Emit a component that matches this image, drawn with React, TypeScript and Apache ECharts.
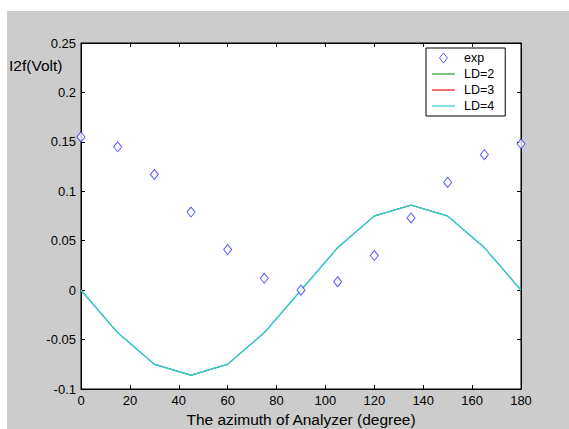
import React, { useEffect, useRef } from "react";
import * as echarts from "echarts";

const angles = [0, 15, 30, 45, 60, 75, 90, 105, 120, 135, 150, 165, 180];
const expValues = [0.155, 0.145, 0.117, 0.079, 0.041, 0.012, 0.0, 0.0085, 0.035, 0.073, 0.109, 0.137, 0.148];
const ld2Values = [0, -0.043, -0.075, -0.086, -0.075, -0.043, 0, 0.043, 0.075, 0.086, 0.075, 0.043, 0];
const ld3Values = [0, -0.043, -0.075, -0.086, -0.075, -0.043, 0, 0.043, 0.075, 0.086, 0.075, 0.043, 0];
const ld4Values = [0, -0.043, -0.075, -0.086, -0.075, -0.043, 0, 0.043, 0.075, 0.086, 0.075, 0.043, 0];
const legendNames = ["exp", "LD=2", "LD=3", "LD=4"];
const lineColors = ["#22a022", "#ee1111", "#33cccc"];
const lineWidths = [0.8, 0.8, 1.5];
const xTitle = "The azimuth of Analyzer (degree)";
const yTitle = "I2f(Volt)";

const FONT = "'Liberation Sans', Arial, sans-serif";
const LINE_ICON = "path://M0,0L23,0L23,1.2L0,1.2Z";
const DIAMOND_ICON = "path://M4,0L8,5L4,10L0,5Z";

export default function App() {
  const ref = useRef<HTMLDivElement>(null);
  useEffect(() => {
    if (!ref.current) return;
    const chart = echarts.init(ref.current, undefined, { renderer: "svg" });
    const pair = (vals: number[]) => angles.map((a, i) => [a, vals[i]]);
    const tickInside = { show: true, inside: true, length: 4, lineStyle: { color: "#000" } };
    const lineData = [ld2Values, ld3Values, ld4Values];
    chart.setOption({
      animation: false,
      backgroundColor: "transparent",
      textStyle: { fontFamily: FONT },
      grid: {
        left: 81,
        top: 43,
        width: 440,
        height: 346,
        show: true,
        backgroundColor: "#ffffff",
        borderColor: "#000",
        borderWidth: 1,
        containLabel: false,
        outerBoundsMode: "none",
      },
      xAxis: [
        {
          type: "value",
          min: 0,
          max: 180,
          interval: 20,
          name: xTitle,
          nameLocation: "middle",
          nameGap: 22,
          nameTextStyle: { fontFamily: FONT, fontSize: 15.5, color: "#000" },
          axisLine: { show: true, onZero: false, lineStyle: { color: "#000" } },
          axisTick: tickInside,
          axisLabel: { fontFamily: FONT, fontSize: 13, color: "#000", margin: 5 },
          splitLine: { show: false },
        },
        {
          type: "value",
          position: "top",
          min: 0,
          max: 180,
          interval: 20,
          axisLine: { show: true, onZero: false, lineStyle: { color: "#000" } },
          axisTick: tickInside,
          axisLabel: { show: false },
          splitLine: { show: false },
        },
      ],
      yAxis: [
        {
          type: "value",
          min: -0.1,
          max: 0.25,
          interval: 0.05,
          axisLine: { show: true, onZero: false, lineStyle: { color: "#000" } },
          axisTick: tickInside,
          axisLabel: { fontFamily: FONT, fontSize: 13, color: "#000", margin: 5 },
          splitLine: { show: false },
        },
        {
          type: "value",
          position: "right",
          min: -0.1,
          max: 0.25,
          interval: 0.05,
          axisLine: { show: true, onZero: false, lineStyle: { color: "#000" } },
          axisTick: tickInside,
          axisLabel: { show: false },
          splitLine: { show: false },
        },
      ],
      legend: {
        orient: "vertical",
        left: 426,
        top: 48,
        data: [
          { name: legendNames[0], icon: DIAMOND_ICON, itemStyle: { color: "#ffffff", borderColor: "#3030ff", borderWidth: 1 } },
          ...legendNames.slice(1).map((n, i) => ({
            name: n,
            icon: LINE_ICON,
            itemStyle: { color: lineColors[i], borderWidth: 0 },
          })),
        ],
        backgroundColor: "#ffffff",
        borderColor: "#000",
        borderWidth: 1,
        padding: [3, 11, 3, 6],
        itemWidth: 23,
        itemHeight: 10,
        itemGap: 2,
        selectedMode: false,
        textStyle: {
          fontFamily: FONT,
          fontSize: 12.5,
          color: "#000",
          lineHeight: 14,
          padding: [0, 0, 0, 4],
        },
      },
      graphic: [
        {
          type: "text",
          left: 9,
          top: 57,
          style: { text: yTitle, font: `15.5px ${FONT}`, fill: "#000" },
        },
      ],
      series: [
        {
          name: legendNames[0],
          type: "scatter",
          data: pair(expValues),
          symbol: "diamond",
          symbolSize: [8, 10],
          itemStyle: { color: "#ffffff", borderColor: "#3030ff", borderWidth: 1 },
          z: 5,
        },
        ...lineData.map((vals, i) => ({
          name: legendNames[i + 1],
          type: "line",
          data: pair(vals),
          symbol: "none",
          lineStyle: { color: lineColors[i], width: lineWidths[i] },
          itemStyle: { color: lineColors[i] },
          z: 2 + i,
        })),
      ],
    });
    return () => chart.dispose();
  }, []);

  return (
    <div style={{ position: "fixed", left: 0, top: 0, width: 569, height: 429, background: "#ffffff" }}>
      <div style={{ position: "absolute", left: 7, top: 11, right: 0, bottom: 0, background: "#cccccc" }} />
      <div ref={ref} style={{ position: "absolute", left: 0, top: 0, width: 569, height: 429 }} />
    </div>
  );
}
